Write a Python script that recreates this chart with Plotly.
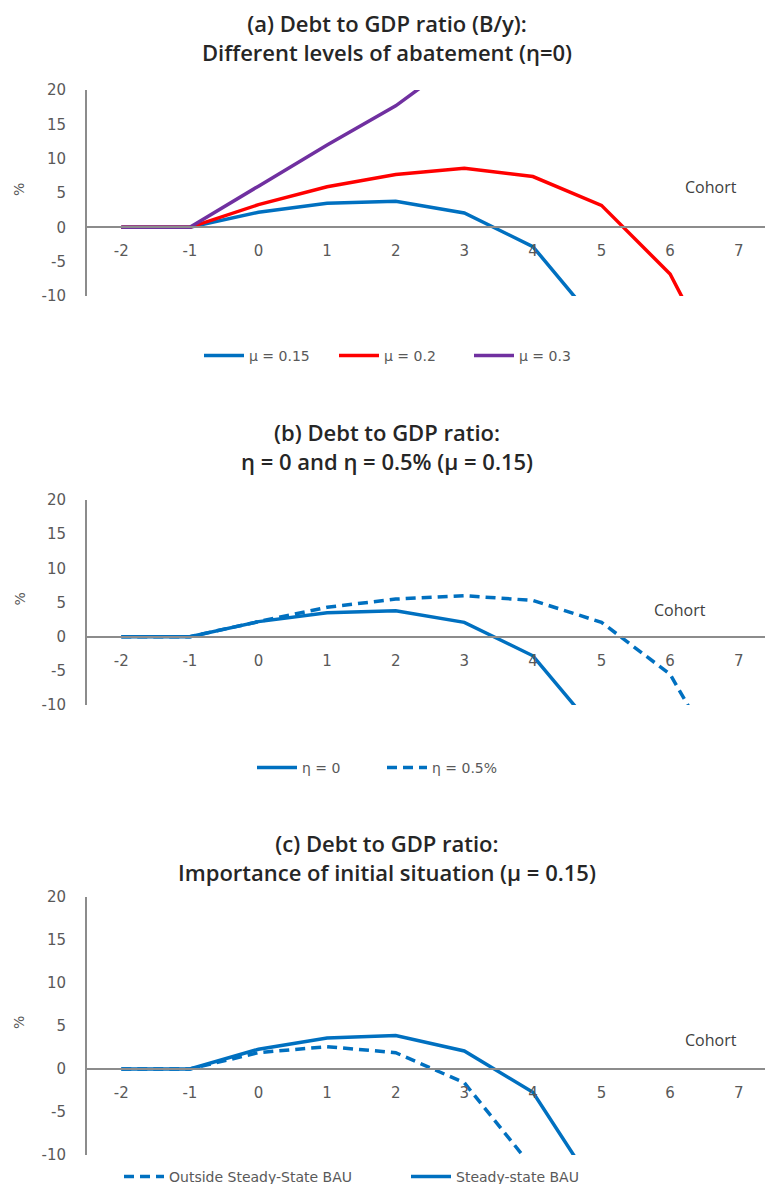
import plotly.graph_objects as go

# ---- data ----
cohort = [-2, -1, 0, 1, 2, 3, 4, 5, 6, 7]
tick_x = [-2, -1, 0, 1, 2, 3, 4, 5, 6, 7]
tick_x_text = ["-2", "-1", "0", "1", "2", "3", "4", "5", "6", "7"]
tick_y = [-10, -5, 0, 5, 10, 15, 20]
tick_y_text = ["-10", "-5", "0", "5", "10", "15", "20"]

mu_015 = [0, 0, 2.2, 3.5, 3.8, 2.1, -2.8, -14.8]
mu_02 = [0, 0, 3.3, 5.9, 7.7, 8.6, 7.4, 3.2, -6.8, -26.0]
mu_03 = [0, 0, 6.0, 12.0, 17.7, 25.0]

eta_0 = [0, 0, 2.2, 3.5, 3.8, 2.1, -2.8, -14.8]
eta_05 = [0, 0, 2.2, 4.3, 5.5, 6.0, 5.3, 2.1, -5.5, -23.0]

outside_ss = [0, 0, 1.9, 2.6, 1.9, -1.6, -11.5]
steady_ss = [0, 0, 2.3, 3.6, 3.9, 2.1, -2.7, -15.0]

# page has an 8px body margin; figure sized to fill the rest of the window
OFF = 8
W, H = 773 - OFF, 1184 - OFF
BLUE, RED, PURPLE = "#0070C0", "#FF0000", "#7030A0"
TXT = "#595959"
FONT = "Open Sans"
TFONT = "DejaVu Sans"

def py(px):
    return 1 - (px - OFF) / H

def pxx(px):
    return (px - OFF) / W

# panel pixel extents (top, bottom) of plotting area, in window pixels
panels = [(90, 296), (500, 705), (897, 1155)]
xdom = [pxx(87), 1.0]
yr = [-10, 20]

fig = go.Figure()

series = [
    (1, mu_015, "μ = 0.15", BLUE, "solid", "legend"),
    (1, mu_02, "μ = 0.2", RED, "solid", "legend"),
    (1, mu_03, "μ = 0.3", PURPLE, "solid", "legend"),
    (2, eta_0, "η = 0", BLUE, "solid", "legend2"),
    (2, eta_05, "η = 0.5%", BLUE, "10px,6px", "legend2"),
    (3, outside_ss, "Outside Steady-State BAU", BLUE, "10px,6px", "legend3"),
    (3, steady_ss, "Steady-state BAU", BLUE, "solid", "legend3"),
]
for p, vals, name, col, dash, leg in series:
    sfx = "" if p == 1 else str(p)
    fig.add_trace(go.Scatter(
        x=cohort[:len(vals)], y=vals, mode="lines", name=name,
        line=dict(color=col, width=3.5, dash=dash),
        xaxis="x" + sfx, yaxis="y" + sfx, legend=leg,
    ))

layout = dict(
    template="none",
    width=W, height=H, margin=dict(l=0, r=0, t=0, b=0, pad=0, autoexpand=False),
    paper_bgcolor="white", plot_bgcolor="white",
    font=dict(family=FONT, color=TXT),
)

for i, (top, bot) in enumerate(panels, start=1):
    sfx = "" if i == 1 else str(i)
    d0, d1 = py(bot), py(top)
    zero_pos = d0 + (0 - yr[0]) / (yr[1] - yr[0]) * (d1 - d0)
    layout["xaxis" + sfx] = dict(
        domain=xdom, range=[-2.5, 7.5], anchor="free", position=zero_pos,
        tickvals=tick_x, ticktext=tick_x_text, showgrid=False, zeroline=False,
        showline=True, linecolor="#8c8c8c", linewidth=2, automargin=False,
        ticks="", ticklabelstandoff=10,
        tickfont=dict(size=15, color=TXT, family=TFONT),
    )
    layout["yaxis" + sfx] = dict(
        domain=[d0, d1], range=yr, anchor="x" + sfx,
        tickvals=tick_y, ticktext=tick_y_text, showgrid=False, zeroline=False,
        showline=True, linecolor="#8c8c8c", linewidth=2, automargin=False,
        ticks="", ticklabelstandoff=16,
        tickfont=dict(size=15, color=TXT, family=TFONT),
    )

leg_common = dict(orientation="h", xanchor="left", yanchor="middle",
                  font=dict(size=14, color=TXT, family=TFONT),
                  bgcolor="rgba(0,0,0,0)", itemwidth=40, tracegroupgap=0,
                  entrywidthmode="pixels")
layout["legend"] = dict(x=pxx(205 - 6), y=py(356), entrywidth=80, **leg_common)
layout["legend2"] = dict(x=pxx(258 - 6), y=py(768), entrywidth=75, **leg_common)
layout["legend3"] = dict(x=pxx(125 - 6), y=py(1177), entrywidth=232, **leg_common)

fig.update_layout(**layout)

titles = [
    ("(a) Debt to GDP ratio (B/y):<br>Different levels of abatement (η=0)", 38),
    ("(b) Debt to GDP ratio:<br>η = 0 and η = 0.5% (μ = 0.15)", 447),
    ("(c) Debt to GDP ratio:<br>Importance of initial situation (μ = 0.15)", 857),
]
for t, ypx in titles:
    fig.add_annotation(text=t, x=pxx(387), y=py(ypx), xref="paper", yref="paper",
                       showarrow=False, xanchor="center", yanchor="middle",
                       font=dict(size=22, color="#262626", family=FONT, weight=600))

for i, (top, bot) in enumerate(panels, start=1):
    fig.add_annotation(text="%", x=pxx(19), y=py((top + bot) / 2 - 3), xref="paper", yref="paper",
                       showarrow=False, textangle=-90, xanchor="center", yanchor="middle",
                       font=dict(size=14, color=TXT, family=TFONT))

cohort_pos = [(1, 6.6, 5.9), (2, 6.15, 3.9), (3, 6.6, 3.4)]
for p, cx, cy in cohort_pos:
    sfx = "" if p == 1 else str(p)
    fig.add_annotation(text="Cohort", x=cx, y=cy, xref="x" + sfx, yref="y" + sfx,
                       showarrow=False, xanchor="center", yanchor="middle",
                       font=dict(size=16, color="#404040", family=FONT))

fig.write_html("out.html")
